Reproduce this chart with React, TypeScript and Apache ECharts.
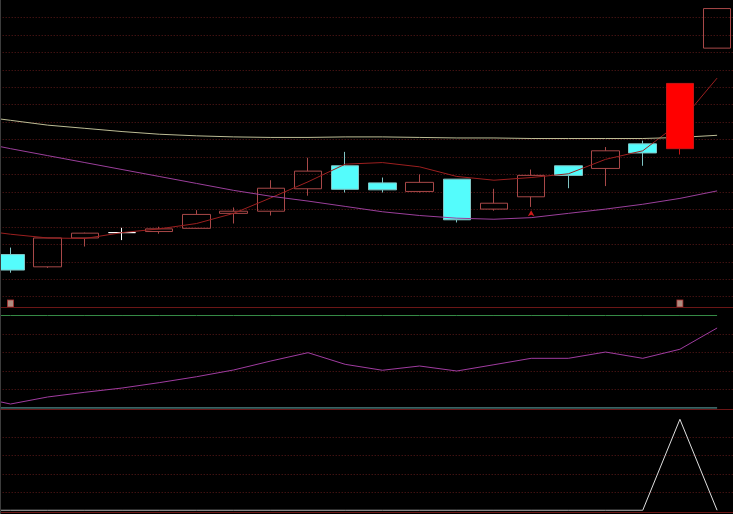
import React, { useEffect, useRef } from "react";
import * as echarts from "echarts";

// ---- data (index 0 is the day just off the left edge) ----
const days = ["D0","D1","D2","D3","D4","D5","D6","D7","D8","D9","D10","D11","D12","D13","D14","D15","D16","D17","D18","D19","D20"];
const opens  = [null, 8.504, 8.481, 8.535, 8.545, 8.547, 8.553, 8.581, 8.585, 8.627, 8.670, 8.638, 8.622, 8.645, 8.589, 8.612, 8.670, 8.665, 8.711, 8.702, 8.890];
const closes = [null, 8.475, 8.535, 8.544, 8.545, 8.552, 8.579, 8.585, 8.628, 8.660, 8.626, 8.625, 8.639, 8.569, 8.600, 8.652, 8.652, 8.698, 8.694, 8.824, 8.964];
const lows   = [null, 8.470, 8.479, 8.519, 8.531, 8.543, 8.552, 8.562, 8.577, 8.614, 8.620, 8.620, 8.620, 8.564, 8.586, 8.593, 8.628, 8.632, 8.670, 8.691, 8.890];
const highs  = [null, 8.517, 8.535, 8.545, 8.554, 8.556, 8.587, 8.592, 8.643, 8.685, 8.696, 8.648, 8.654, 8.645, 8.627, 8.663, 8.670, 8.705, 8.717, 8.824, 8.964];
const highlightDays = [19];
const dojiDays = [4];

const maShort = [8.551, 8.542, 8.535, 8.534, 8.545, 8.552, 8.562, 8.581, 8.610, 8.640, 8.673, 8.676, 8.668, 8.650, 8.643, 8.648, 8.655, 8.682, 8.698, 8.751, 8.834];
const maMid   = [8.716, 8.702, 8.689, 8.676, 8.663, 8.650, 8.637, 8.624, 8.613, 8.604, 8.594, 8.584, 8.577, 8.572, 8.570, 8.573, 8.581, 8.589, 8.598, 8.609, 8.623];
const maLong  = [8.764, 8.755, 8.746, 8.740, 8.734, 8.729, 8.726, 8.724, 8.723, 8.723, 8.724, 8.724, 8.723, 8.722, 8.722, 8.721, 8.721, 8.721, 8.721, 8.723, 8.727];

const infoMineDays = [1, 19];
const infoMineLevel = 8.4125;
const buyArrowDays = [15];
const buyArrowLevel = 8.587;

const oscillator = [13.0, 4.3, 11.9, 17.0, 21.6, 27.4, 33.8, 41.1, 50.8, 59.8, 47.2, 40.8, 45.4, 40.0, 46.8, 53.7, 53.7, 60.5, 53.7, 63.5, 86.5];
const oscUpper = 100;
const oscLower = 0;
const signal = [0, 0, 0, 0, 0, 0, 0, 0, 0, 0, 0, 0, 0, 0, 0, 0, 0, 0, 0, 100, 0];

const priceMin = 8.4059;
const priceMax = 8.98;

// ---- styles ----
const UP = "#a84848";
const DOWN = "#54fcfc";
const DOWN_EDGE = "#7fc4c4";
const GRID_DOT = "#5e1a1a";
const FRAME = "#6b1616";

export default function App() {
  const ref = useRef<HTMLDivElement>(null);

  useEffect(() => {
    document.body.style.margin = "0";
    document.body.style.background = "#000";
    const chart = echarts.init(ref.current!, null, { renderer: "svg" });

    const empty = ["-", "-", "-", "-"];
    const baseCandles = days.map((_, i) => {
      if (opens[i] == null || highlightDays.includes(i)) return empty;
      const v = [opens[i], closes[i], lows[i], highs[i]];
      if (dojiDays.includes(i)) {
        return { value: v, itemStyle: { color: "#ffffff", color0: "#ffffff", borderColor: "#ffffff", borderColor0: "#ffffff" } };
      }
      return v;
    });
    const hiCandles = days.map((_, i) =>
      highlightDays.includes(i) && opens[i] != null ? [opens[i], closes[i], lows[i], highs[i]] : empty
    );

    // extremes
    let lo = Infinity, loI = 0, hi = -Infinity, hiI = 0;
    days.forEach((_, i) => {
      if (lows[i] != null && (lows[i] as number) < lo) { lo = lows[i] as number; loI = i; }
      if (highs[i] != null && (highs[i] as number) > hi) { hi = highs[i] as number; hiI = i; }
    });

    const L = -45.3;
    const W = 781;
    const dotted = (interval: number, min: number, max: number, inverse: boolean, gridIndex: number) => ({
      type: "value", gridIndex, min, max, interval, inverse,
      axisLine: { show: false }, axisTick: { show: false }, axisLabel: { show: false },
      splitLine: { show: true, showMinLine: false, showMaxLine: false, lineStyle: { color: GRID_DOT, width: 1, type: [1, 2] } },
    });

    const textStyle = { color: "#c8c8c8", fontSize: 7, fontFamily: "DejaVu Sans" };
    const gridBase = { left: L, width: W, outerBoundsMode: "none", containLabel: false };

    chart.setOption({
      animation: false,
      backgroundColor: "#000000",
      grid: [
        { ...gridBase, top: 0, height: 307 },
        { ...gridBase, top: 315.5, height: 92.5 },
        { ...gridBase, top: 419.3, height: 91 },
      ],
      xAxis: [0, 1, 2].map((g) => ({ type: "category", gridIndex: g, data: days, boundaryGap: true, show: false })),
      yAxis: [
        { type: "value", gridIndex: 0, min: priceMin, max: priceMax, show: false },
        dotted(17.45, 0, 307, true, 0),
        dotted(20, 0, 100, false, 1),
        dotted(20, 0, 100, false, 2),
      ],
      graphic: [
        { type: "line", shape: { x1: 0, y1: 307.5, x2: 733, y2: 307.5 }, style: { stroke: FRAME, lineWidth: 1 }, z: 10 },
        { type: "line", shape: { x1: 0, y1: 409.5, x2: 733, y2: 409.5 }, style: { stroke: FRAME, lineWidth: 1 }, z: 10 },
        { type: "line", shape: { x1: 0, y1: 512.5, x2: 733, y2: 512.5 }, style: { stroke: FRAME, lineWidth: 1 }, z: 10 },
        { type: "line", shape: { x1: 0.5, y1: 0, x2: 0.5, y2: 514 }, style: { stroke: "#3c3c3c", lineWidth: 1 }, z: 10 },
      ],
      series: [
        {
          type: "candlestick", name: "K", xAxisIndex: 0, yAxisIndex: 0, barWidth: 28, z: 2,
          data: baseCandles,
          itemStyle: { color: "rgba(0,0,0,0)", color0: DOWN, borderColor: UP, borderColor0: DOWN_EDGE, borderWidth: 1 },
        },
        { type: "line", name: "MA1", xAxisIndex: 0, yAxisIndex: 0, data: maShort, symbol: "none", z: 3, lineStyle: { color: "#9c1f1f", width: 1 } },
        { type: "line", name: "MA2", xAxisIndex: 0, yAxisIndex: 0, data: maMid, symbol: "none", z: 3, lineStyle: { color: "#9b3f9b", width: 1 } },
        { type: "line", name: "MA3", xAxisIndex: 0, yAxisIndex: 0, data: maLong, symbol: "none", z: 3, lineStyle: { color: "#bdbd95", width: 1 } },
        {
          type: "candlestick", name: "HL", xAxisIndex: 0, yAxisIndex: 0, barWidth: 28, z: 4,
          data: hiCandles,
          itemStyle: { color: "#ff0000", color0: "#ff0000", borderColor: "#c81414", borderColor0: "#c81414", borderWidth: 1 },
        },
        {
          type: "scatter", name: "mine", xAxisIndex: 0, yAxisIndex: 0, z: 5,
          symbol: "rect", symbolSize: [6, 7],
          itemStyle: { color: "#d9b0a0", borderColor: "#b03030", borderWidth: 1 },
          data: infoMineDays.map((d) => [d, infoMineLevel]),
        },
        {
          type: "scatter", name: "buy", xAxisIndex: 0, yAxisIndex: 0, z: 5,
          symbol: "arrow", symbolSize: [5, 6],
          itemStyle: { color: "#ff2020" },
          data: buyArrowDays.map((d) => [d, buyArrowLevel]),
        },
        {
          type: "scatter", name: "ext", xAxisIndex: 0, yAxisIndex: 0, z: 6,
          symbol: "circle", symbolSize: 1, itemStyle: { opacity: 0 },
          label: {
            show: true, position: "right", distance: 0, ...textStyle,
            formatter: (p: any) => "\u2190" + Number(p.value[1]).toFixed(2),
          },
          data: [[loI, lo], [hiI, hi]],
        },
        { type: "line", name: "OSC", xAxisIndex: 1, yAxisIndex: 2, data: oscillator, symbol: "none", z: 3, lineStyle: { color: "#a03ca0", width: 1 } },
        { type: "line", name: "UP", xAxisIndex: 1, yAxisIndex: 2, data: days.map(() => oscUpper), symbol: "none", z: 3, lineStyle: { color: "#358a45", width: 1 } },
        { type: "line", name: "LO", xAxisIndex: 1, yAxisIndex: 2, data: days.map(() => oscLower), symbol: "none", z: 3, lineStyle: { color: "#4d8585", width: 1.5 } },
        { type: "line", name: "SIG", xAxisIndex: 2, yAxisIndex: 3, data: signal, symbol: "none", z: 3, lineStyle: { color: "#e0e0e0", width: 1 } },
      ],
    });
    return () => chart.dispose();
  }, []);

  return <div ref={ref} style={{ position: "fixed", left: 0, top: 0, width: 733, height: 514, background: "#000" }} />;
}
